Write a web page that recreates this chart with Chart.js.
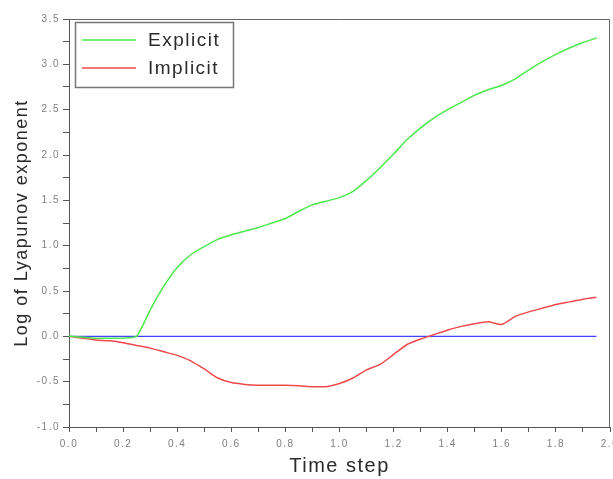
<!DOCTYPE html>
<html>
<head>
<meta charset="utf-8">
<script src="https://cdn.jsdelivr.net/npm/chart.js@4/dist/chart.umd.min.js"></script>
<style>
  body { margin: 0; background: #fff; }
  canvas { display: block; }
</style>
</head>
<body>
<canvas id="lyap" width="613" height="479"></canvas>
<script>
// time steps (x) shared by all curves
const timeSteps = [0, 0.05, 0.10, 0.15, 0.20, 0.25, 0.30, 0.35, 0.40, 0.45,
                   0.50, 0.55, 0.60, 0.65, 0.70, 0.75, 0.80, 0.85, 0.90, 0.95,
                   1.00, 1.05, 1.10, 1.15, 1.20, 1.25, 1.30, 1.35, 1.40, 1.45,
                   1.50, 1.55, 1.60, 1.65, 1.70, 1.75, 1.80, 1.85, 1.90, 1.95];

const explicitLog = [0, -0.01, -0.02, -0.02, -0.02, 0.0, 0.29, 0.55, 0.76, 0.90,
                     0.99, 1.07, 1.12, 1.16, 1.20, 1.25, 1.30, 1.38, 1.45, 1.49,
                     1.53, 1.60, 1.72, 1.86, 2.01, 2.17, 2.30, 2.41, 2.50, 2.58,
                     2.66, 2.72, 2.77, 2.84, 2.94, 3.03, 3.11, 3.18, 3.24, 3.29];

const implicitLog = [0, -0.02, -0.04, -0.05, -0.07, -0.10, -0.13, -0.17, -0.21, -0.27,
                     -0.36, -0.46, -0.51, -0.53, -0.54, -0.54, -0.54, -0.545, -0.555, -0.555,
                     -0.52, -0.46, -0.37, -0.31, -0.20, -0.09, -0.03, 0.02, 0.07, 0.11,
                     0.14, 0.16, 0.13, 0.22, 0.27, 0.31, 0.35, 0.38, 0.41, 0.43];

const zeroLine = [0, 0];
const zeroLineX = [0, 1.95];

const seriesLabels = ["Explicit", "Implicit"];
const seriesColors = ["#4de84d", "#ef4a4a"];

function toPoints(xs, ys) {
  return ys.map((y, i) => ({x: xs[i], y: y}));
}

const fontFamily = "'Liberation Sans', Arial, sans-serif";

const framePlugin = {
  id: 'frame',
  beforeDraw(chart) {
    chart.ctx.letterSpacing = '1.5px';
  },
  afterDraw(chart) {
    const ctx = chart.ctx;
    const a = chart.chartArea;
    ctx.save();
    ctx.strokeStyle = '#666';
    ctx.lineWidth = 1;
    ctx.beginPath();
    ctx.moveTo(a.left, a.top + 0.5);
    ctx.lineTo(a.right - 0.5, a.top + 0.5);
    ctx.lineTo(a.right - 0.5, a.bottom);
    ctx.stroke();

    // legend box
    const bx = a.left + 6, by = a.top + 3, bw = 158, bh = 65;
    ctx.strokeStyle = '#777';
    ctx.lineWidth = 1.5;
    ctx.strokeRect(bx + 0.5, by + 0.5, bw, bh);
    ctx.font = '19px ' + fontFamily;
    ctx.letterSpacing = '1.5px';
    ctx.textBaseline = 'middle';
    ctx.fillStyle = '#2a2a2a';
    seriesLabels.forEach((lab, i) => {
      const y = by + 18 + i * 28;
      ctx.strokeStyle = seriesColors[i];
      ctx.lineWidth = 1.5;
      ctx.beginPath();
      ctx.moveTo(bx + 7, y);
      ctx.lineTo(bx + 61, y);
      ctx.stroke();
      ctx.fillText(lab, bx + 73, y + 1);
    });
    ctx.restore();
  }
};

new Chart(document.getElementById('lyap').getContext('2d'), {
  type: 'line',
  data: {
    datasets: [
      {
        label: seriesLabels[0],
        data: toPoints(timeSteps, explicitLog),
        borderColor: seriesColors[0],
        borderWidth: 1.5,
        pointRadius: 0,
        tension: 0.2
      },
      {
        label: seriesLabels[1],
        data: toPoints(timeSteps, implicitLog),
        borderColor: seriesColors[1],
        borderWidth: 1.5,
        pointRadius: 0,
        tension: 0.2
      },
      {
        label: 'zero',
        data: toPoints(zeroLineX, zeroLine),
        borderColor: '#4444ff',
        borderWidth: 1.2,
        pointRadius: 0
      }
    ]
  },
  options: {
    responsive: false,
    animation: false,
    layout: { padding: { top: 19, right: 3, left: 0, bottom: 0 } },
    plugins: {
      legend: { display: false },
      tooltip: { enabled: false }
    },
    scales: {
      x: {
        type: 'linear',
        min: 0,
        max: 2,
        afterFit(scale) {
          scale.height = 52;
          scale.paddingLeft = 0;
          scale.paddingRight = 0;
        },
        border: { display: true, color: '#555', width: 1 },
        grid: { drawOnChartArea: false, drawTicks: true, tickLength: 5, color: '#555' },
        ticks: {
          stepSize: 0.1,
          autoSkip: false,
          maxRotation: 0,
          padding: 6,
          color: '#808080',
          font: { family: fontFamily, size: 10 },
          callback: (v) => (Math.round(v * 10) % 2 === 0 ? v.toFixed(1) : '')
        },
        title: {
          display: true,
          text: 'Time step',
          color: '#2a2a2a',
          font: { family: fontFamily, size: 20 },
          padding: { top: 0, bottom: 1 }
        }
      },
      y: {
        min: -1,
        max: 3.5,
        afterFit(scale) {
          scale.width = 69;
          scale.paddingTop = 0;
          scale.paddingBottom = 0;
        },
        border: { display: true, color: '#555', width: 1 },
        grid: { drawOnChartArea: false, drawTicks: true, tickLength: 6, color: '#555' },
        ticks: {
          stepSize: 0.25,
          autoSkip: false,
          padding: 3,
          color: '#808080',
          font: { family: fontFamily, size: 10 },
          callback: (v) => (Math.round(v * 4) % 2 === 0 ? v.toFixed(1) : '')
        },
        title: {
          display: true,
          text: 'Log of Lyapunov exponent',
          color: '#2a2a2a',
          font: { family: fontFamily, size: 18 },
          padding: { top: 11, bottom: 0 }
        }
      }
    }
  },
  plugins: [framePlugin]
});
</script>
</body>
</html>
